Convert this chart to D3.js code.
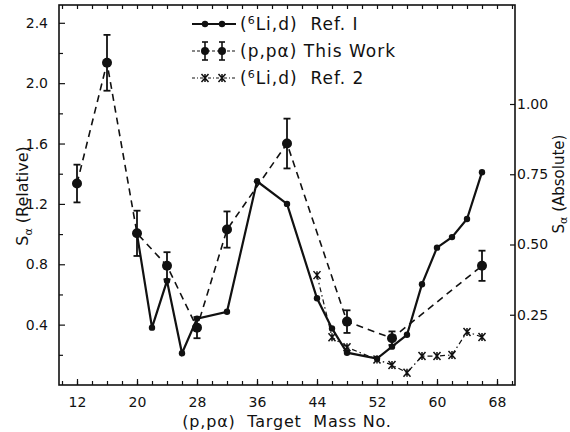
<!DOCTYPE html>
<html>
<head>
<meta charset="utf-8">
<script src="https://cdn.jsdelivr.net/npm/d3@7"></script>
<style>
  body { margin: 0; background: #fff; }
  text { font-family: "DejaVu Sans", sans-serif; fill: #111; white-space: pre; }
</style>
</head>
<body>
<script>
// (6Li,d) Ref. 1 - relative scale
var massRef1 = [20, 22, 24, 26, 28, 32, 36, 40, 44, 46, 48, 52, 54, 56, 58, 60, 62, 64, 66];
var valRef1  = [1.00, 0.38, 0.69, 0.21, 0.44, 0.485, 1.35, 1.20, 0.575, 0.375, 0.214, 0.175, 0.254, 0.333, 0.668, 0.91, 0.98, 1.10, 1.41];

// (p,p alpha) This Work - relative scale, with error bars
var massWork = [12, 16, 20, 24, 28, 32, 40, 48, 54, 66];
var valWork  = [1.335, 2.135, 1.005, 0.79, 0.38, 1.03, 1.60, 0.42, 0.31, 0.79];
var errWork  = [0.125, 0.185, 0.15, 0.09, 0.07, 0.12, 0.165, 0.075, 0.045, 0.10];

// (6Li,d) Ref. 2 - absolute scale
var massRef2 = [44, 46, 48, 52, 54, 56, 58, 60, 62, 64, 66];
var valRef2  = [0.391, 0.170, 0.134, 0.091, 0.071, 0.044, 0.103, 0.103, 0.107, 0.189, 0.171];

var xTicks  = [12, 20, 28, 36, 44, 52, 60, 68];
var yTicks  = [0.4, 0.8, 1.2, 1.6, 2.0, 2.4];
var y2Ticks = [0.25, 0.50, 0.75, 1.00];

var svg = d3.select("body").append("svg")
            .attr("width", 570)
            .attr("height", 432);

var fLeft = 59, fRight = 515, fTop = 5, fBottom = 385;

var x  = d3.scaleLinear().domain([12, 68]).range([77, 497]);
var y  = d3.scaleLinear().domain([0, 2.4]).range([fBottom, 22.8]);
var y2 = d3.scaleLinear().domain([0, 1.0]).range([fBottom, 104]);

// frame
svg.append("rect")
   .attr("x", fLeft).attr("y", fTop)
   .attr("width", fRight - fLeft).attr("height", fBottom - fTop)
   .attr("fill", "none").attr("stroke", "#111").attr("stroke-width", 1.6);

// bottom + top minor ticks every 2
var minorX = d3.range(10, 71, 2);
svg.append("g").attr("transform", "translate(0," + fBottom + ")")
   .call(d3.axisBottom(x).tickValues(minorX).tickSize(-4).tickFormat(""))
   .call(function(g){ g.select(".domain").remove(); });
svg.append("g").attr("transform", "translate(0," + fTop + ")")
   .call(d3.axisTop(x).tickValues(minorX).tickSize(-4).tickFormat(""))
   .call(function(g){ g.select(".domain").remove(); });

// bottom labels
svg.append("g").attr("transform", "translate(0," + fBottom + ")")
   .call(d3.axisBottom(x).tickValues(xTicks).tickSize(-6).tickPadding(12).tickFormat(d3.format("d")))
   .call(function(g){ g.select(".domain").remove();
       g.selectAll("text").attr("font-size", 14).attr("font-family", "DejaVu Sans"); });

// left axis
svg.append("g").attr("transform", "translate(" + fLeft + ",0)")
   .call(d3.axisLeft(y).tickValues(d3.range(0.2, 2.5, 0.4)).tickSize(-4).tickFormat(""))
   .call(function(g){ g.select(".domain").remove(); });
svg.append("g").attr("transform", "translate(" + fLeft + ",0)")
   .call(d3.axisLeft(y).tickValues(yTicks).tickSize(-6).tickPadding(11).tickFormat(d3.format(".1f")))
   .call(function(g){ g.select(".domain").remove();
       g.selectAll("text").attr("font-size", 14).attr("font-family", "DejaVu Sans"); });

// right axis
svg.append("g").attr("transform", "translate(" + fRight + ",0)")
   .call(d3.axisRight(y2).tickValues(y2Ticks).tickSize(-5).tickPadding(2).tickFormat(d3.format(".2f")))
   .call(function(g){ g.select(".domain").remove();
       g.selectAll("text").attr("font-size", 14).attr("font-family", "DejaVu Sans"); });

svg.selectAll(".tick line").attr("stroke", "#111").attr("stroke-width", 1.2);

// lines
var line1 = d3.line().x(function(d){ return x(d[0]); }).y(function(d){ return y(d[1]); });
var line2 = d3.line().x(function(d){ return x(d[0]); }).y(function(d){ return y2(d[1]); });

var ref1 = d3.zip(massRef1, valRef1);
var work = d3.zip(massWork, valWork, errWork);
var ref2 = d3.zip(massRef2, valRef2);

svg.append("path").datum(work).attr("d", line1)
   .attr("fill", "none").attr("stroke", "#111").attr("stroke-width", 1.6)
   .attr("stroke-dasharray", "7,5");

svg.append("path").datum(ref2).attr("d", line2)
   .attr("fill", "none").attr("stroke", "#111").attr("stroke-width", 1.2)
   .attr("stroke-dasharray", "5,3,1.5,3");

svg.append("path").datum(ref1).attr("d", line1)
   .attr("fill", "none").attr("stroke", "#111").attr("stroke-width", 2.2);

// markers
svg.append("g").selectAll("circle").data(ref1).enter().append("circle")
   .attr("cx", function(d){ return x(d[0]); })
   .attr("cy", function(d){ return y(d[1]); })
   .attr("r", 3.2).attr("fill", "#111");

var eb = svg.append("g").selectAll("g").data(work).enter().append("g")
            .attr("stroke", "#111").attr("stroke-width", 1.8);
eb.append("line")
  .attr("x1", function(d){ return x(d[0]); }).attr("x2", function(d){ return x(d[0]); })
  .attr("y1", function(d){ return y(d[1] - d[2]); }).attr("y2", function(d){ return y(d[1] + d[2]); });
eb.append("line")
  .attr("x1", function(d){ return x(d[0]) - 3.5; }).attr("x2", function(d){ return x(d[0]) + 3.5; })
  .attr("y1", function(d){ return y(d[1] + d[2]); }).attr("y2", function(d){ return y(d[1] + d[2]); });
eb.append("line")
  .attr("x1", function(d){ return x(d[0]) - 3.5; }).attr("x2", function(d){ return x(d[0]) + 3.5; })
  .attr("y1", function(d){ return y(d[1] - d[2]); }).attr("y2", function(d){ return y(d[1] - d[2]); });
eb.append("circle")
  .attr("cx", function(d){ return x(d[0]); })
  .attr("cy", function(d){ return y(d[1]); })
  .attr("r", 5).attr("fill", "#111").attr("stroke", "none");

function star(g, cx, cy) {
    g.append("path")
     .attr("d", "M" + (cx - 3.5) + "," + (cy - 4) + "L" + (cx + 3.5) + "," + (cy + 4) +
                "M" + (cx + 3.5) + "," + (cy - 4) + "L" + (cx - 3.5) + "," + (cy + 4) +
                "M" + cx + "," + (cy - 4) + "L" + cx + "," + (cy + 4))
     .attr("stroke", "#111").attr("stroke-width", 1.5).attr("fill", "none");
}
var g2 = svg.append("g");
ref2.forEach(function(d){ star(g2, x(d[0]), y2(d[1])); });

// legend
var leg = svg.append("g");
var lx0 = 192, lx1 = 236, ly = [24, 51, 78];

leg.append("line").attr("x1", lx0).attr("x2", lx1).attr("y1", ly[0]).attr("y2", ly[0])
   .attr("stroke", "#111").attr("stroke-width", 2);
[205, 222].forEach(function(cx){
    leg.append("circle").attr("cx", cx).attr("cy", ly[0]).attr("r", 3.2).attr("fill", "#111");
});

leg.append("line").attr("x1", lx0).attr("x2", lx1).attr("y1", ly[1]).attr("y2", ly[1])
   .attr("stroke", "#111").attr("stroke-width", 1.2).attr("stroke-dasharray", "3,2");
[205, 222].forEach(function(cx){
    var gg = leg.append("g").attr("stroke", "#111").attr("stroke-width", 1.6);
    gg.append("line").attr("x1", cx).attr("x2", cx).attr("y1", ly[1] - 9).attr("y2", ly[1] + 9);
    gg.append("line").attr("x1", cx - 3).attr("x2", cx + 3).attr("y1", ly[1] - 9).attr("y2", ly[1] - 9);
    gg.append("line").attr("x1", cx - 3).attr("x2", cx + 3).attr("y1", ly[1] + 9).attr("y2", ly[1] + 9);
    gg.append("circle").attr("cx", cx).attr("cy", ly[1]).attr("r", 4).attr("fill", "#111").attr("stroke", "none");
});

leg.append("line").attr("x1", lx0).attr("x2", lx1).attr("y1", ly[2]).attr("y2", ly[2])
   .attr("stroke", "#111").attr("stroke-width", 1).attr("stroke-dasharray", "3,2,1,2");
[205, 222].forEach(function(cx){ star(leg, cx, ly[2]); });

function sixLi(t, rest) {
    t.append("tspan").text("(");
    t.append("tspan").text("6").attr("font-size", 11).attr("dy", -6);
    t.append("tspan").text("Li,d)").attr("dy", 6);
    t.append("tspan").text(rest);
}
var t1 = leg.append("text").attr("x", 240).attr("y", ly[0] + 6)
            .attr("font-size", 17).attr("letter-spacing", 1);
sixLi(t1, "  Ref. I");
leg.append("text").attr("x", 240).attr("y", ly[1] + 6)
   .attr("font-size", 17).attr("letter-spacing", 1).text("(p,pα) This Work");
var t3 = leg.append("text").attr("x", 240).attr("y", ly[2] + 6)
            .attr("font-size", 17).attr("letter-spacing", 1);
sixLi(t3, "  Ref. 2");

// axis titles
var yl = svg.append("text").attr("transform", "translate(28,196) rotate(-90)")
            .attr("text-anchor", "middle").attr("font-size", 16);
yl.append("tspan").text("S");
yl.append("tspan").text("α").attr("font-size", 11).attr("dy", 4);
yl.append("tspan").text(" (Relative)").attr("dy", -4);

var yr = svg.append("text").attr("transform", "translate(564,184) rotate(-90)")
            .attr("text-anchor", "middle").attr("font-size", 15);
yr.append("tspan").text("S");
yr.append("tspan").text("α").attr("font-size", 11).attr("dy", 3);
yr.append("tspan").text(" (Absolute)").attr("dy", -3);

svg.append("text").attr("x", 287).attr("y", 427).attr("text-anchor", "middle")
   .attr("font-size", 16).attr("letter-spacing", 0.8).text("(p,pα)  Target  Mass No.");
</script>
</body>
</html>
